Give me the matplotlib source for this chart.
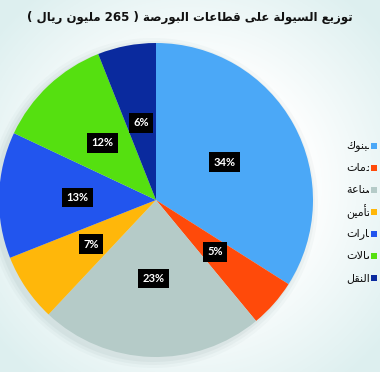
import numpy as np
import matplotlib
matplotlib.use("Agg")
import matplotlib.pyplot as plt
from matplotlib.patches import Rectangle, Circle
from matplotlib.transforms import Bbox, TransformedBbox

# data
title = "توزيع السيولة على قطاعات البورصة ( 265 مليون ريال )"
sectors = ["البنوك", "الخدمات", "الصناعة", "التأمين", "العقارات", "الاتصالات", "النقل"]
shares = [34, 5, 23, 7, 13, 12, 6]
colors = ["#4BA8F7", "#FF4A0A", "#B5CBC8", "#FFB70A", "#2255EE", "#55E010", "#0A2A9E"]

# matplotlib has no arabic shaping -> map letters to presentation forms by hand
DUAL = {'ب': 0xFE8F, 'ت': 0xFE95, 'خ': 0xFEA5, 'س': 0xFEB1, 'ص': 0xFEB9, 'ط': 0xFEC1,
        'ع': 0xFEC9, 'ق': 0xFED5, 'ك': 0xFED9, 'ل': 0xFEDD, 'م': 0xFEE1, 'ن': 0xFEE5,
        'ي': 0xFEF1}
RIGHT = {'ا': 0xFE8D, 'أ': 0xFE83, 'ة': 0xFE93, 'د': 0xFEA9, 'ر': 0xFEAD, 'ز': 0xFEAF,
         'و': 0xFEED, 'ى': 0xFEEF}
LAM_ALEF = {'ا': (0xFEFB, 0xFEFC), 'أ': (0xFEF7, 0xFEF8)}


def shape(word):
    out = []
    i = 0
    while i < len(word):
        c = word[i]
        joins_prev = i > 0 and word[i - 1] in DUAL
        if c == 'ل' and i + 1 < len(word) and word[i + 1] in LAM_ALEF:
            iso, fin = LAM_ALEF[word[i + 1]]
            out.append(chr(fin if joins_prev else iso))
            i += 2
            continue
        if c in DUAL:
            joins_next = i + 1 < len(word) and (word[i + 1] in DUAL or word[i + 1] in RIGHT)
            if joins_prev and joins_next:
                k = 3
            elif joins_prev:
                k = 1
            elif joins_next:
                k = 2
            else:
                k = 0
            out.append(chr(DUAL[c] + k))
        elif c in RIGHT:
            out.append(chr(RIGHT[c] + (1 if joins_prev else 0)))
        else:
            out.append(c)
        i += 1
    return ''.join(reversed(out))


def rtl(text):
    mirror = {'(': ')', ')': '('}
    parts = []
    for tok in reversed(text.split(' ')):
        if tok in mirror:
            parts.append(mirror[tok])
        elif any(ch in DUAL or ch in RIGHT for ch in tok):
            parts.append(shape(tok))
        else:
            parts.append(tok)
    return ' '.join(parts)


W, H = 380, 372
fig = plt.figure(figsize=(W / 100, H / 100), dpi=100)
ax = fig.add_axes([0, 0, 1, 1])

# soft background
yy, xx = np.mgrid[0:H, 0:W]
r = np.sqrt(((xx - W / 2) / (W / 2)) ** 2 + ((yy - H / 2) / (H / 2)) ** 2)
t = np.clip((r - 0.6) / 0.7, 0, 1)[..., None]
bg = (1 - t) * np.array([1.0, 1.0, 1.0]) + t * np.array([0.87, 0.94, 0.94])
ax.imshow(bg, extent=(0, W, 0, H), origin="upper", zorder=0)

cx, cy, R = 156, H - 200, 157

# shadow around pie
for k, a in [(8, 0.05), (5, 0.07), (2, 0.09)]:
    ax.add_patch(Circle((cx - 3, cy - 3), R + k, color="#7f9a9a", alpha=a, lw=0, zorder=1))

wedges, texts, autotexts = ax.pie(
    shares, colors=colors, startangle=90, counterclock=False,
    radius=R, center=(cx, cy), autopct=lambda p: f"{p:.0f}%", pctdistance=0.5,
    wedgeprops=dict(linewidth=0), frame=False,
    textprops=dict(color="white", fontsize=8, fontweight="bold", family="Lato"))
for w in wedges:
    w.set_zorder(2)
for at in autotexts:
    at.set_zorder(4)
    at.set_bbox(dict(boxstyle="square,pad=0.4", fc="black", ec="none"))

ax.set_xlim(0, W)
ax.set_ylim(0, H)
ax.set_aspect("equal")
ax.axis("off")

ttl = ax.text(190, H - 17, rtl(title), ha="center", va="center", fontsize=12,
              fontweight="bold", color="#111111", family="DejaVu Sans", zorder=5)
# shrink title to the width it has in the source (about 324 px)
fig.canvas.draw()
tw = ttl.get_window_extent().width
ttl.set_fontsize(12 * 324 / tw)

# legend, labels start at the same x and are cut where the markers start
clip = TransformedBbox(Bbox.from_extents(0, 0, 369, H), ax.transData)
for i, (name, col) in enumerate(zip(sectors, colors)):
    y = H - (146 + 22 * i)
    ax.add_patch(Rectangle((371, y - 3), 6, 6, color=col, lw=0, zorder=5))
    txt = ax.text(346, y, rtl(name), ha="left", va="center", fontsize=8,
                  color="#111111", family="DejaVu Sans", zorder=5)
    txt.set_clip_box(clip)
    txt.set_clip_on(True)

fig.savefig("out.png", dpi=100)
